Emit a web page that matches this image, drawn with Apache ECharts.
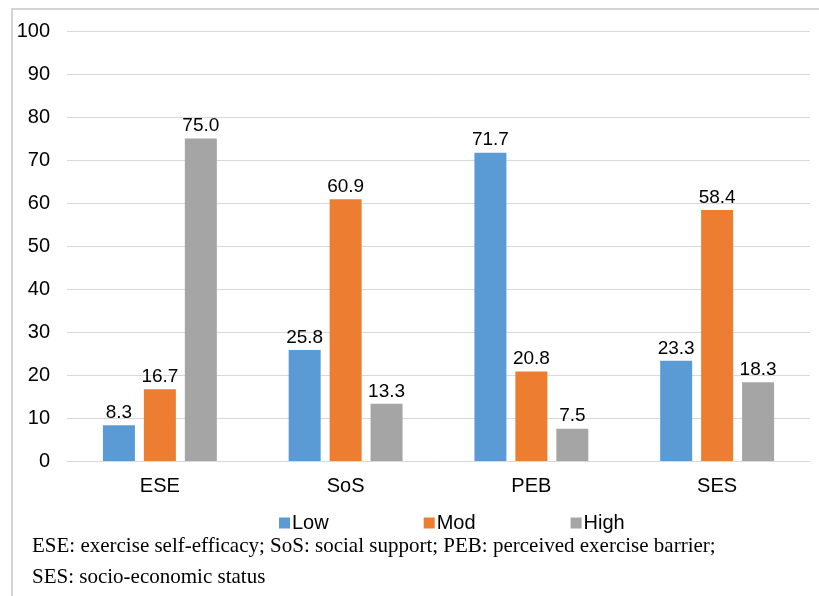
<!DOCTYPE html>
<html>
<head>
<meta charset="utf-8">
<script src="https://cdn.jsdelivr.net/npm/echarts@6/dist/echarts.min.js"></script>
<style>
html,body{margin:0;padding:0;background:#fff;}
#chart{width:819px;height:596px;}
</style>
</head>
<body>
<div id="chart"></div>
<script>
var categories = ['ESE', 'SoS', 'PEB', 'SES'];
var lowValues = [8.3, 25.8, 71.7, 23.3];
var modValues = [16.7, 60.9, 20.8, 58.4];
var highValues = [75.0, 13.3, 7.5, 18.3];
var seriesNames = ['Low', 'Mod', 'High'];
var yTicks = {min: 0, max: 100, interval: 10};
var footnoteLines = [
  'ESE: exercise self-efficacy; SoS: social support; PEB: perceived exercise barrier;',
  'SES: socio-economic status'
];

var chart = echarts.init(document.getElementById('chart'));
var sans = 'Liberation Sans, Arial, sans-serif';
var serif = 'Liberation Serif, Times New Roman, serif';
var labelOpt = {
  show: true, position: 'top', distance: 3,
  fontFamily: sans, fontSize: 19, color: '#000',
  formatter: function (p) { return p.value.toFixed(1); }
};
function mkSeries(name, data, color) {
  return {
    name: name, type: 'bar', data: data, barWidth: 32, barGap: '28%',
    itemStyle: {color: color}, label: labelOpt, emphasis: {disabled: true}
  };
}
chart.setOption({
  animation: false,
  backgroundColor: '#fff',
  grid: {left: 67, right: 9, top: 31, bottom: 135, containLabel: false},
  legend: {
    data: seriesNames, left: 274, top: 508, itemWidth: 11, itemHeight: 11,
    itemGap: 95, icon: 'rect',
    textStyle: {fontFamily: sans, fontSize: 20, color: '#000', padding: [0, 0, 0, -3]}
  },
  xAxis: {
    type: 'category', data: categories,
    axisLine: {show: true, lineStyle: {color: '#d9d9d9', width: 1}},
    axisTick: {show: false},
    axisLabel: {fontFamily: sans, fontSize: 20, color: '#000', margin: 15}
  },
  yAxis: {
    type: 'value', min: yTicks.min, max: yTicks.max, interval: yTicks.interval,
    axisLine: {show: false}, axisTick: {show: false},
    splitLine: {lineStyle: {color: '#d9d9d9', width: 1}},
    axisLabel: {fontFamily: sans, fontSize: 20, color: '#000', margin: 17}
  },
  series: [
    mkSeries(seriesNames[0], lowValues, '#5B9BD5'),
    mkSeries(seriesNames[1], modValues, '#ED7D31'),
    mkSeries(seriesNames[2], highValues, '#A5A5A5')
  ],
  graphic: [
    {type: 'rect', shape: {x: 12, y: 9, width: 830, height: 620}, style: {fill: 'none', stroke: '#d4d4d4', lineWidth: 2}, silent: true},
    {type: 'text', left: 32, top: 536, style: {text: footnoteLines[0], fontFamily: serif, fontSize: 21, fill: '#000'}},
    {type: 'text', left: 32, top: 567, style: {text: footnoteLines[1], fontFamily: serif, fontSize: 21, fill: '#000'}}
  ]
});
</script>
</body>
</html>
